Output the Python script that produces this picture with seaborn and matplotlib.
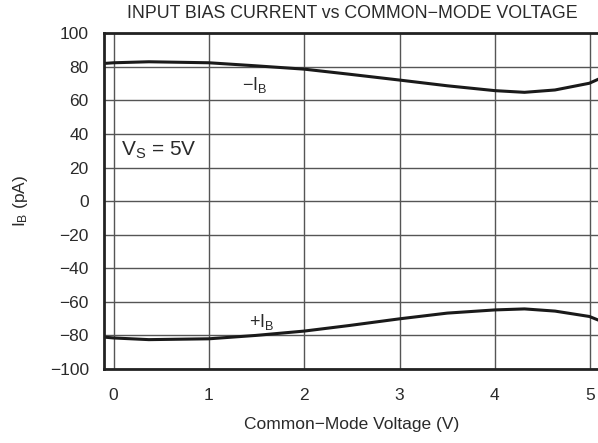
import pandas as pd
import matplotlib.pyplot as plt
import seaborn as sns

# values
vcm = [-0.1, 0.0, 0.37, 1.0, 1.49, 2.0, 2.47, 3.0, 3.5, 4.0, 4.31, 4.63, 4.99, 5.1]
ib_minus = [82.0, 82.4, 83.0, 82.4, 80.6, 78.6, 75.6, 72.1, 68.7, 65.8, 64.8, 66.2, 70.2, 73.0]
ib_plus = [-81.0, -81.5, -82.5, -82.0, -80.0, -77.4, -74.1, -70.1, -66.7, -64.8, -64.2, -65.5, -68.7, -71.2]

x_ticks = [0, 1, 2, 3, 4, 5]
y_ticks = list(range(-100, 101, 20))

df = pd.DataFrame({'Vcm': vcm, 'minus': ib_minus, 'plus': ib_plus})

sns.set_style('white')
plt.rcParams['font.family'] = ['Liberation Sans', 'DejaVu Sans']
plt.rcParams['mathtext.fontset'] = 'custom'
plt.rcParams['mathtext.rm'] = 'Liberation Sans'
plt.rcParams['mathtext.it'] = 'Liberation Sans'

txt = '#2a2a2a'

fig = plt.figure(figsize=(5.98, 4.43), dpi=100)
ax = fig.add_axes([0.174, 0.167, 0.829, 0.758])

sns.lineplot(data=df, x='Vcm', y='minus', ax=ax, color='#1a1a1a', linewidth=2.2)
sns.lineplot(data=df, x='Vcm', y='plus', ax=ax, color='#1a1a1a', linewidth=2.2)

ax.set_xlim(-0.1, 5.1)
ax.set_ylim(-100, 100)
ax.set_xticks(x_ticks)
ax.set_yticks(y_ticks)
ax.grid(True, color='#555555', linewidth=1.0)
ax.set_axisbelow(True)
ax.tick_params(axis='y', length=0, labelsize=12.5, pad=11, colors=txt)
ax.tick_params(axis='x', length=0, labelsize=12.5, pad=14, colors=txt)

for side in ['left', 'top', 'bottom']:
    ax.spines[side].set_linewidth(2)
    ax.spines[side].set_color('#222222')
ax.spines['right'].set_visible(False)

ax.set_xlabel('Common\u2212Mode Voltage (V)', fontsize=12.5, labelpad=10, color=txt)
ax.set_ylabel(r'I$_\mathregular{B}$ (pA)', fontsize=12.5, labelpad=14, color=txt)
ax.set_title('INPUT BIAS CURRENT vs COMMON\u2212MODE VOLTAGE', fontsize=12.8, pad=11, color=txt)

ax.text(1.35, 69, '\u2212I$_\\mathregular{B}$', fontsize=13, va='center', color=txt)
ax.text(1.42, -72, '+I$_\\mathregular{B}$', fontsize=13, va='center', color=txt)
ax.text(0.08, 30, 'V$_\\mathregular{S}$ = 5V', fontsize=15, va='center', color=txt)

fig.savefig('out.png', dpi=100)
